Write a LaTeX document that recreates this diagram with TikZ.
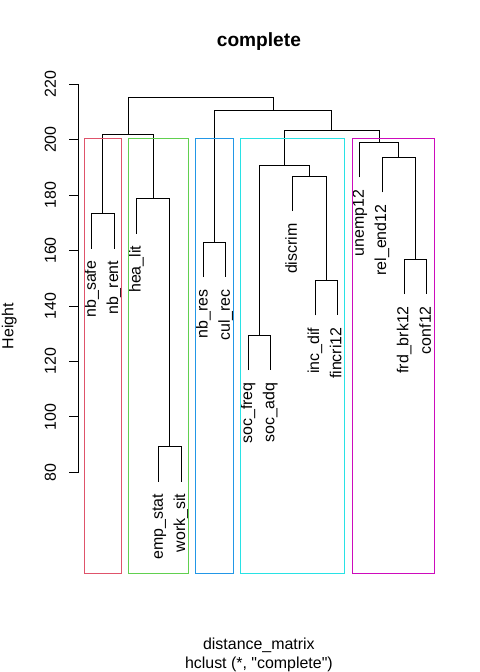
\documentclass[tikz,border=0pt]{standalone}
\usepackage{fontspec}
\setmainfont{Liberation Sans}[Ligatures=TeXOff]
\definecolor{rred}{HTML}{DF536B}
\definecolor{rgreen}{HTML}{61D04F}
\definecolor{rblue}{HTML}{2297E6}
\definecolor{rcyan}{HTML}{28E2E5}
\definecolor{rmagenta}{HTML}{CD0BBC}
\begin{document}
\begin{tikzpicture}[x=1bp,y=-1bp,
  declare function={lx(\i)=91.7+(\i-1)*22.33; hy(\h)=573.3-(\h-43.5)*2.771; hb(\h)=hy(\h-12.62);},
  dend/.style={line width=0.8bp, black},
  clusterbox/.style={line width=0.8bp},
  leaflab/.style={rotate=90, anchor=base east, inner sep=0pt, font=\fontsize{16}{19}\selectfont},
  ticklab/.style={rotate=90, anchor=base, inner sep=0pt, font=\fontsize{16}{19}\selectfont},
  plainlab/.style={anchor=base, inner sep=0pt, font=\fontsize{16}{19}\selectfont},
  titlelab/.style={anchor=base, inner sep=0pt, font=\fontsize{19.2}{23}\selectfont\bfseries}]
\useasboundingbox (0,0) rectangle (480,672);
\fill[white] (0,0) rectangle (480,672);
% leaf ends
\coordinate (l1) at ({lx(1)},{hb(173.3)});
\coordinate (l2) at ({lx(2)},{hb(173.3)});
\coordinate (l3) at ({lx(3)},{hb(178.7)});
\coordinate (l4) at ({lx(4)},{hb(89.2)});
\coordinate (l5) at ({lx(5)},{hb(89.2)});
\coordinate (l6) at ({lx(6)},{hb(163.0)});
\coordinate (l7) at ({lx(7)},{hb(163.0)});
\coordinate (l8) at ({lx(8)},{hb(129.4)});
\coordinate (l9) at ({lx(9)},{hb(129.4)});
\coordinate (l10) at ({lx(10)},{hb(186.8)});
\coordinate (l11) at ({lx(11)},{hb(149.2)});
\coordinate (l12) at ({lx(12)},{hb(149.2)});
\coordinate (l13) at ({lx(13)},{hb(199.0)});
\coordinate (l14) at ({lx(14)},{hb(193.6)});
\coordinate (l15) at ({lx(15)},{hb(156.9)});
\coordinate (l16) at ({lx(16)},{hb(156.9)});
% merges
\coordinate (A) at ({lx(1.5)},{hy(173.3)});
\coordinate (B) at ({lx(4.5)},{hy(89.2)});
\coordinate (C) at ({lx(3.75)},{hy(178.7)});
\coordinate (D) at ({lx(2.625)},{hy(201.8)});
\coordinate (E) at ({lx(6.5)},{hy(163.0)});
\coordinate (F) at ({lx(8.5)},{hy(129.4)});
\coordinate (G) at ({lx(11.5)},{hy(149.2)});
\coordinate (H) at ({lx(10.75)},{hy(186.8)});
\coordinate (I) at ({lx(9.625)},{hy(190.7)});
\coordinate (J) at ({lx(15.5)},{hy(156.9)});
\coordinate (K) at ({lx(14.75)},{hy(193.6)});
\coordinate (L) at ({lx(13.875)},{hy(199.0)});
\coordinate (M) at ({lx(11.75)},{hy(203.2)});
\coordinate (N) at ({lx(9.125)},{hy(210.4)});
\coordinate (O) at ({lx(5.875)},{hy(215.4)});
% dendrogram
\draw[dend] (l1) |- (A) -| (l2);
\draw[dend] (l4) |- (B) -| (l5);
\draw[dend] (l3) |- (C) -| (B);
\draw[dend] (A) |- (D) -| (C);
\draw[dend] (l6) |- (E) -| (l7);
\draw[dend] (l8) |- (F) -| (l9);
\draw[dend] (l11) |- (G) -| (l12);
\draw[dend] (l10) |- (H) -| (G);
\draw[dend] (F) |- (I) -| (H);
\draw[dend] (l15) |- (J) -| (l16);
\draw[dend] (l14) |- (K) -| (J);
\draw[dend] (l13) |- (L) -| (K);
\draw[dend] (I) |- (M) -| (L);
\draw[dend] (E) |- (N) -| (M);
\draw[dend] (D) |- (O) -| (N);
% leaf labels
\node[leaflab] (t1) at ([xshift=4.15bp,yshift=-12bp]l1) {nb\_safe};
\node[leaflab] (t2) at ([xshift=4.15bp,yshift=-12bp]l2) {nb\_rent};
\node[leaflab] (t3) at ([xshift=4.15bp,yshift=-12bp]l3) {hea\_lit};
\node[leaflab] (t4) at ([xshift=4.15bp,yshift=-12bp]l4) {emp\_stat};
\node[leaflab] (t5) at ([xshift=4.15bp,yshift=-12bp]l5) {work\_sit};
\node[leaflab] (t6) at ([xshift=4.15bp,yshift=-12bp]l6) {nb\_res};
\node[leaflab] (t7) at ([xshift=4.15bp,yshift=-12bp]l7) {cul\_rec};
\node[leaflab] (t8) at ([xshift=4.15bp,yshift=-12bp]l8) {soc\_freq};
\node[leaflab] (t9) at ([xshift=4.15bp,yshift=-12bp]l9) {soc\_adq};
\node[leaflab] (t10) at ([xshift=4.15bp,yshift=-12bp]l10) {discrim};
\node[leaflab] (t11) at ([xshift=4.15bp,yshift=-12bp]l11) {inc\_dif};
\node[leaflab] (t12) at ([xshift=4.15bp,yshift=-12bp]l12) {fincri12};
\node[leaflab] (t13) at ([xshift=4.15bp,yshift=-12bp]l13) {unemp12};
\node[leaflab] (t14) at ([xshift=4.15bp,yshift=-12bp]l14) {rel\_end12};
\node[leaflab] (t15) at ([xshift=4.15bp,yshift=-12bp]l15) {frd\_brk12};
\node[leaflab] (t16) at ([xshift=4.15bp,yshift=-12bp]l16) {conf12};
% cluster rectangles
\draw[clusterbox, rred] ({lx(1)-7.59},{hy(200.45)}) rectangle ({lx(2)+7.37},573.3);
\draw[clusterbox, rgreen] ({lx(3)-7.59},{hy(200.45)}) rectangle ({lx(5)+7.37},573.3);
\draw[clusterbox, rblue] ({lx(6)-7.59},{hy(200.45)}) rectangle ({lx(7)+7.37},573.3);
\draw[clusterbox, rcyan] ({lx(8)-7.59},{hy(200.45)}) rectangle ({lx(12)+7.37},573.3);
\draw[clusterbox, rmagenta] ({lx(13)-7.59},{hy(200.45)}) rectangle ({lx(16)+7.37},573.3);
% axis
\draw[dend] (78.7,{hy(80)}) -- (78.7,{hy(220)});
\foreach \v in {80,100,...,220}{
  \draw[dend] (78.7,{hy(\v)}) -- (69.1,{hy(\v)});
  \node[ticklab] (tick\v) at (55.8,{hy(\v)}) {\v};
}
% titles
\node[titlelab] (title) at (258.9,46.7) {complete};
\node[plainlab] (xlab) at (258.9,649.5) {distance\_matrix};
\node[plainlab] (sublab) at (258.9,668.7) {hclust (*, "complete")};
\node[ticklab] (ylab) at (13.3,326) {Height};
\end{tikzpicture}
\end{document}
